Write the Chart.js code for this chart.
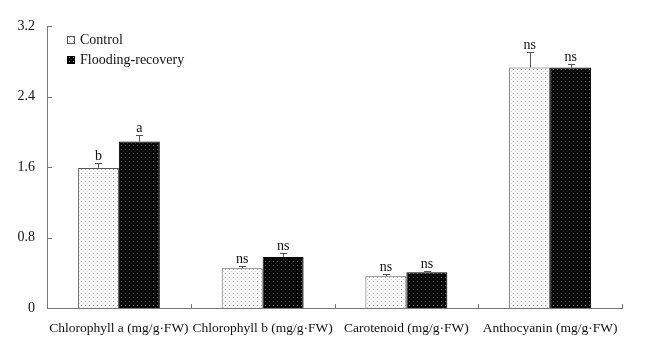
<!DOCTYPE html>
<html>
<head>
<meta charset="utf-8">
<script src="https://cdn.jsdelivr.net/npm/chart.js@4.4.0/dist/chart.umd.min.js"></script>
<style>
  html, body { margin: 0; padding: 0; background: #fff; }
  #wrap { width: 655px; height: 347px; }
</style>
</head>
<body>
<div id="wrap"><canvas id="chart"></canvas></div>
<script>
// Pigment contents, control vs flooding-recovery
const categories = ['Chlorophyll a (mg/g·FW)', 'Chlorophyll b (mg/g·FW)', 'Carotenoid (mg/g·FW)', 'Anthocyanin (mg/g·FW)'];
const controlMeans = [1.59, 0.45, 0.36, 2.73];
const controlErr = [0.05, 0.027, 0.023, 0.17];
const controlMarks = ['b', 'ns', 'ns', 'ns'];
const floodMeans = [1.89, 0.58, 0.405, 2.73];
const floodErr = [0.07, 0.04, 0.015, 0.04];
const floodMarks = ['a', 'ns', 'ns', 'ns'];
const yMin = 0;
const yMax = 3.2;
const yStep = 0.8;

const FONT = 'Liberation Serif';

// dotted fill patterns
function dotPattern(bg, dot1, dot2) {
  const c = document.createElement('canvas');
  c.width = 4; c.height = 4;
  const g = c.getContext('2d');
  g.fillStyle = bg;
  g.fillRect(0, 0, 4, 4);
  g.fillStyle = dot1;
  g.fillRect(1, 1, 1, 1);
  g.fillStyle = dot2;
  g.fillRect(3, 3, 1, 1);
  return g.createPattern(c, 'repeat');
}
const ctx = document.getElementById('chart').getContext('2d');
const controlFill = dotPattern('#ffffff', '#9a9a9a', '#d0d0d0');
const floodFill = dotPattern('#000000', '#6a6a6a', '#303030');

// error bars (upper half only) and significance letters
const errorBars = {
  id: 'errorBars',
  afterDatasetsDraw(chart) {
    const c = chart.ctx;
    const y = chart.scales.y;
    const errs = [controlErr, floodErr];
    const marks = [controlMarks, floodMarks];
    chart.data.datasets.forEach((ds, di) => {
      const meta = chart.getDatasetMeta(di);
      meta.data.forEach((bar, i) => {
        const top = y.getPixelForValue(ds.data[i] + errs[di][i]);
        c.save();
        c.strokeStyle = '#555';
        c.lineWidth = 1;
        c.beginPath();
        c.moveTo(Math.round(bar.x) + 0.5, bar.y);
        c.lineTo(Math.round(bar.x) + 0.5, top);
        c.moveTo(Math.round(bar.x) - 3, Math.round(top) + 0.5);
        c.lineTo(Math.round(bar.x) + 4, Math.round(top) + 0.5);
        c.stroke();
        c.fillStyle = '#111';
        c.font = '14px "' + FONT + '"';
        c.textAlign = 'center';
        c.textBaseline = 'alphabetic';
        c.fillText(marks[di][i], bar.x, top - 3);
        c.restore();
      });
    });
  }
};

// inward tick marks on both axes
const innerTicks = {
  id: 'innerTicks',
  afterDraw(chart) {
    const c = chart.ctx;
    const x = chart.scales.x;
    const y = chart.scales.y;
    c.save();
    c.strokeStyle = '#777';
    c.lineWidth = 1;
    c.beginPath();
    y.ticks.forEach((t, i) => {
      if (t.value === 0) return;
      const py = Math.round(y.getPixelForTick(i)) + 0.5;
      c.moveTo(x.left, py);
      c.lineTo(x.left + 5, py);
    });
    categories.forEach((_, i) => {
      const px = Math.round(x.getPixelForValue(i + 0.5)) + 0.5;
      c.moveTo(px, y.bottom);
      c.lineTo(px, y.bottom - 4);
    });
    c.stroke();
    c.restore();
  }
};

// legend in the upper left of the plot
const boxLegend = {
  id: 'boxLegend',
  afterDraw(chart) {
    const c = chart.ctx;
    const area = chart.chartArea;
    c.save();
    c.font = '14px "' + FONT + '"';
    c.textBaseline = 'middle';
    chart.data.datasets.forEach((ds, i) => {
      const bx = area.left + 20;
      const by = area.top + 10 + i * 20;
      c.fillStyle = ds.backgroundColor;
      c.fillRect(bx, by, 8, 8);
      c.strokeStyle = ds.borderColor;
      c.lineWidth = 1;
      c.strokeRect(bx + 0.5, by + 0.5, 7, 7);
      c.fillStyle = '#111';
      c.fillText(ds.label, bx + 13, by + 4);
    });
    c.restore();
  }
};

new Chart(ctx, {
  type: 'bar',
  data: {
    labels: categories,
    datasets: [
      {
        label: 'Control',
        data: controlMeans,
        backgroundColor: controlFill,
        borderColor: '#555',
        borderWidth: 1,
        categoryPercentage: 0.57,
        barPercentage: 1.0
      },
      {
        label: 'Flooding-recovery',
        data: floodMeans,
        backgroundColor: floodFill,
        borderColor: '#000',
        borderWidth: 1,
        categoryPercentage: 0.57,
        barPercentage: 1.0
      }
    ]
  },
  options: {
    responsive: true,
    maintainAspectRatio: false,
    animation: false,
    layout: { padding: { top: 26, right: 33, left: 0, bottom: 0 } },
    plugins: {
      legend: { display: false },
      tooltip: { enabled: false }
    },
    scales: {
      x: {
        grid: { display: false },
        border: { display: true, color: '#777', width: 1 },
        ticks: {
          color: '#111',
          padding: 4,
          maxRotation: 0,
          autoSkip: false,
          font: { family: FONT, size: 13.5 }
        },
        afterFit(scale) { scale.height = 39; }
      },
      y: {
        min: yMin,
        max: yMax,
        grid: { display: false },
        border: { display: true, color: '#777', width: 1 },
        ticks: {
          stepSize: yStep,
          color: '#111',
          padding: 4,
          font: { family: FONT, size: 14 },
          callback: (v) => (v === 0 ? '0' : v.toFixed(1))
        },
        afterFit(scale) { scale.width = 47; }
      }
    }
  },
  plugins: [errorBars, innerTicks, boxLegend]
});
</script>
</body>
</html>
